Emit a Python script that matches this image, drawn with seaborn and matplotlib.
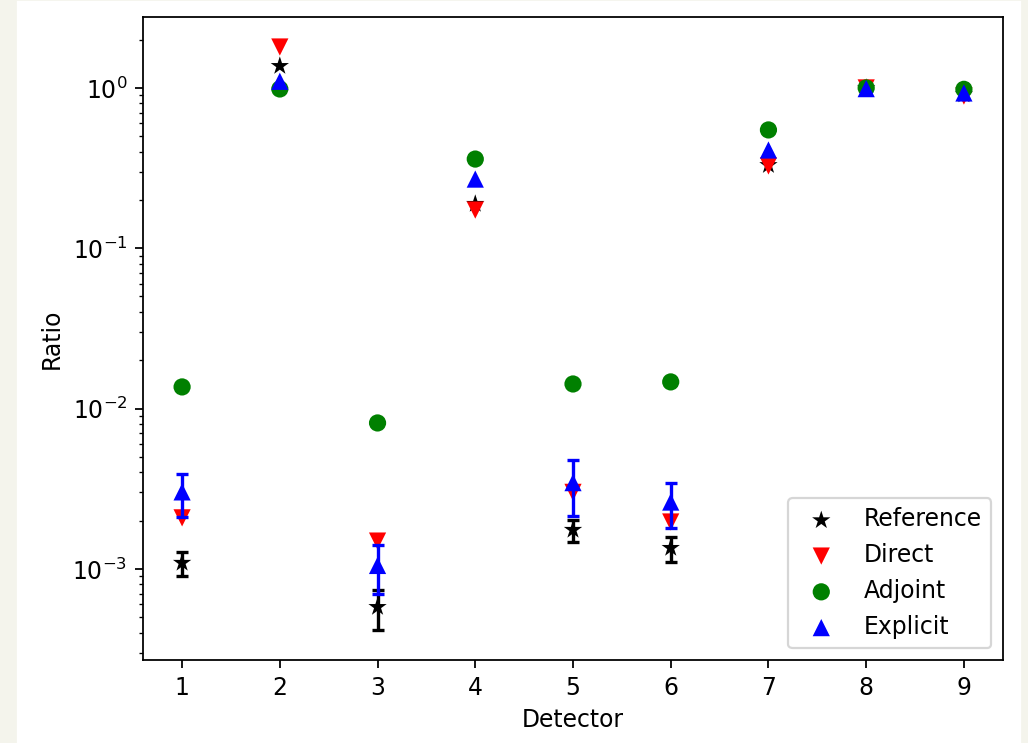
import numpy as np
import pandas as pd
import matplotlib
matplotlib.use("Agg")
import matplotlib.pyplot as plt
from matplotlib.patches import Rectangle
import seaborn as sns

# Data
detectors = [1, 2, 3, 4, 5, 6, 7, 8, 9]
reference = [0.00109, 1.37, 0.000578, 0.189, 0.00175, 0.00135, 0.33, 1.0, 0.91]
reference_err = [0.00019, np.nan, 0.00016, np.nan, 0.00027, 0.00024, np.nan, np.nan, np.nan]
direct = [0.00208, 1.80, 0.00149, 0.173, 0.00300, 0.00196, 0.326, 1.0, 0.89]
adjoint = [0.01364, 0.985, 0.00813, 0.36, 0.01423, 0.01466, 0.547, 1.0, 0.98]
explicit = [0.00302, 1.10, 0.00105, 0.27, 0.00345, 0.00261, 0.41, 0.99, 0.93]
explicit_err = [0.0009, np.nan, 0.00035, np.nan, 0.0013, 0.0008, np.nan, np.nan, np.nan]

series = [
    ("Reference", reference, reference_err, "black", "*"),
    ("Direct", direct, None, "red", "v"),
    ("Adjoint", adjoint, None, "green", "o"),
    ("Explicit", explicit, explicit_err, "blue", "^"),
]

plt.rcParams["font.size"] = 10.6

DPI = 160
fig = plt.figure(figsize=(1028 / DPI, 743 / DPI), dpi=DPI, facecolor="#f4f4ec")
fig.patches.append(Rectangle((18 / 1028, 0), 1002 / 1028, 741 / 743,
                             transform=fig.transFigure, color="white", zorder=-5))
ax = fig.add_axes([143 / 1028, 1 - 660 / 743, 860 / 1028, 643 / 743])
ax.set_zorder(1)

z = 2
for name, vals, err, color, marker in series:
    df = pd.DataFrame({"Detector": detectors, "Ratio": vals})
    if err is not None:
        ax.errorbar(detectors, vals, yerr=err, fmt="none", ecolor=color,
                    capsize=2.8, elinewidth=1.5, capthick=1.5, zorder=z)
    sns.scatterplot(data=df, x="Detector", y="Ratio", color=color, marker=marker,
                    s=60 if marker != "*" else 75, linewidth=0, edgecolor="none",
                    label=name, legend=False, ax=ax, zorder=z + 0.5)
    z += 1

ax.set_yscale("log")
ax.set_ylim(2.7e-4, 2.77)
ax.set_xlim(0.6, 9.4)
ax.set_xticks(detectors)
ax.set_xlabel("Detector")
ax.set_ylabel("Ratio")
ax.legend(loc="lower right")

fig.savefig("out.png", dpi=DPI, facecolor=fig.get_facecolor())
